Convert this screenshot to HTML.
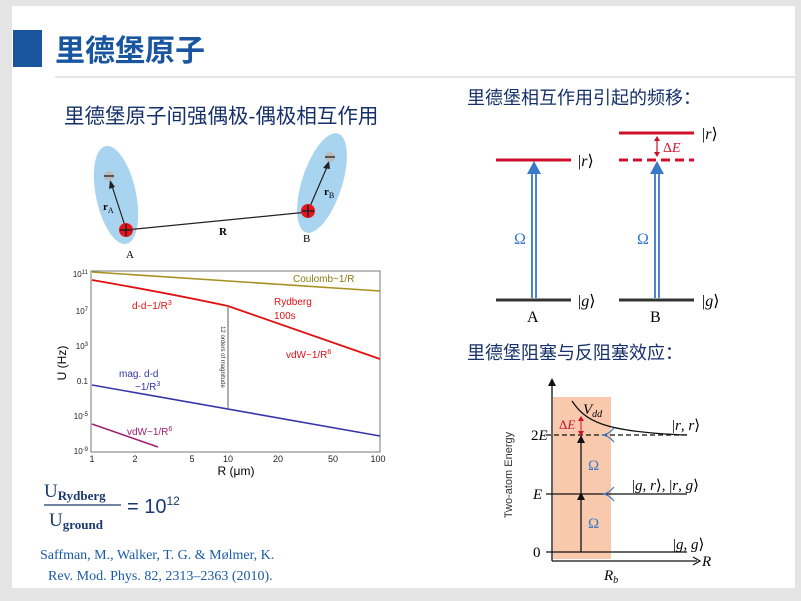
<!DOCTYPE html>
<html><head><meta charset="utf-8"><style>
html,body{margin:0;padding:0;background:#e6e6e6;}
svg{display:block}
.cn{font-family:"Liberation Sans","Noto Sans CJK SC",sans-serif}
.sf{font-family:"Liberation Serif",serif}
.ss{font-family:"Liberation Sans",sans-serif}
</style></head><body>
<svg width="801" height="601" viewBox="0 0 801 601" xmlns="http://www.w3.org/2000/svg">
<rect x="0" y="0" width="801" height="601" fill="#e4e4e4"/>
<rect x="12" y="6" width="783" height="582" fill="#fff"/>
<rect x="13" y="30" width="29" height="37" fill="#1a56a0"/>
<text x="55" y="61" class="cn" font-size="30" font-weight="bold" fill="#1a56a0">里德堡原子</text>
<line x1="55" y1="77" x2="795" y2="77" stroke="#ddd" stroke-width="1.5"/>
<text x="64" y="123" class="cn" font-size="20.5" fill="#15306a">里德堡原子间强偶极-偶极相互作用</text>

<!-- atoms -->
<ellipse cx="116" cy="195" rx="20" ry="50" transform="rotate(-12 116 195)" fill="#a9d4f0"/>
<ellipse cx="322" cy="183" rx="20" ry="52" transform="rotate(18 322 183)" fill="#a9d4f0"/>
<line x1="126" y1="230" x2="308" y2="212" stroke="#222" stroke-width="1.2"/>
<line x1="126" y1="229" x2="112" y2="186" stroke="#222" stroke-width="1.2"/>
<polygon points="110,180 109,189 115,187" fill="#222"/>
<line x1="308" y1="211" x2="327" y2="167" stroke="#222" stroke-width="1.2"/>
<polygon points="329,161 323,168 330,169" fill="#222"/>
<circle cx="109" cy="176" r="5" fill="#bbb"/><line x1="104" y1="176" x2="114" y2="176" stroke="#333" stroke-width="1.5"/>
<circle cx="330" cy="157" r="5" fill="#bbb"/><line x1="325" y1="157" x2="335" y2="157" stroke="#333" stroke-width="1.5"/>
<circle cx="126" cy="230" r="7" fill="#e8141b"/><path d="M120 230h12M126 224v12" stroke="#222" stroke-width="1.5"/>
<circle cx="308" cy="211" r="7" fill="#e8141b"/><path d="M302 211h12M308 205v12" stroke="#222" stroke-width="1.5"/>
<text x="103" y="210" class="sf" font-size="11" font-weight="bold">r<tspan font-size="8" font-weight="normal" dy="3">A</tspan></text>
<text x="324" y="195" class="sf" font-size="11" font-weight="bold">r<tspan font-size="8" font-weight="normal" dy="3">B</tspan></text>
<text x="219" y="235" class="sf" font-size="11" font-weight="bold">R</text>
<text x="126" y="258" class="sf" font-size="11">A</text>
<text x="303" y="242" class="sf" font-size="11">B</text>

<!-- plot -->
<rect x="91" y="271" width="289" height="181" fill="none" stroke="#777" stroke-width="1"/>
<g class="ss" font-size="8" fill="#222" text-anchor="end">
<text x="88" y="277">10<tspan font-size="6" dy="-3">11</tspan></text>
<text x="88" y="314">10<tspan font-size="6" dy="-3">7</tspan></text>
<text x="88" y="349">10<tspan font-size="6" dy="-3">3</tspan></text>
<text x="88" y="384">0.1</text>
<text x="88" y="419">10<tspan font-size="6" dy="-3">-5</tspan></text>
<text x="88" y="454">10<tspan font-size="6" dy="-3">-9</tspan></text>
</g>
<g class="ss" font-size="9" fill="#222" text-anchor="middle">
<text x="92" y="462">1</text><text x="135" y="462">2</text><text x="192" y="462">5</text><text x="228" y="462">10</text><text x="278" y="462">20</text><text x="333" y="462">50</text><text x="378" y="462">100</text>
</g>
<text x="236" y="475" class="ss" font-size="12" text-anchor="middle">R (μm)</text>
<text transform="translate(66 363) rotate(-90)" class="ss" font-size="12" text-anchor="middle">U (Hz)</text>
<polyline points="92,272 380,291" fill="none" stroke="#a89020" stroke-width="1.6"/>
<path d="M92,280 C150,290 200,300 228,306 L380,359" fill="none" stroke="#e01010" stroke-width="1.8"/>
<line x1="92" y1="385" x2="380" y2="436" stroke="#3535a8" stroke-width="1.6"/>
<line x1="92" y1="424" x2="158" y2="447" stroke="#a02070" stroke-width="1.6"/>
<line x1="228" y1="306" x2="228" y2="408" stroke="#777" stroke-width="1.2"/>
<text transform="translate(221 357) rotate(90)" class="ss" font-size="6" text-anchor="middle" fill="#333">12 orders of magnitude</text>
<text x="293" y="282" class="ss" font-size="10" fill="#8a7a10">Coulomb~1/R</text>
<text x="132" y="309" class="ss" font-size="10" fill="#e01010">d-d~1/R<tspan font-size="7" dy="-4">3</tspan></text>
<text x="274" y="305" class="ss" font-size="10" fill="#e01010">Rydberg</text>
<text x="274" y="319" class="ss" font-size="10" fill="#e01010">100s</text>
<text x="286" y="358" class="ss" font-size="10" fill="#e01010">vdW~1/R<tspan font-size="7" dy="-4">6</tspan></text>
<text x="119" y="377" class="ss" font-size="10" fill="#3535a8">mag. d-d</text>
<text x="135" y="390" class="ss" font-size="10" fill="#3535a8">~1/R<tspan font-size="7" dy="-4">3</tspan></text>
<text x="127" y="435" class="ss" font-size="10" fill="#a02070">vdW~1/R<tspan font-size="7" dy="-4">6</tspan></text>

<!-- formula -->
<text x="44" y="497" class="sf" font-size="19" fill="#1a3a6e">U<tspan font-size="13" font-weight="bold" dy="3">Rydberg</tspan></text>
<line x1="44" y1="505" x2="121" y2="505" stroke="#1a3a6e" stroke-width="1.2"/>
<text x="49" y="526" class="sf" font-size="19" fill="#1a3a6e">U<tspan font-size="13" font-weight="bold" dy="3">ground</tspan></text>
<text x="127" y="513" class="ss" font-size="20" fill="#1a3a6e">= 10<tspan font-size="12" dy="-8">12</tspan></text>
<text x="40" y="559" class="sf" font-size="14" fill="#1a5aa8">Saffman, M., Walker, T. G. &amp; Mølmer, K.</text>
<text x="48" y="580" class="sf" font-size="14" fill="#1a5aa8">Rev. Mod. Phys. 82, 2313–2363 (2010).</text>

<!-- right top -->
<text x="467" y="104" class="cn" font-size="18" fill="#15306a">里德堡相互作用引起的频移：</text>
<line x1="496" y1="160" x2="571" y2="160" stroke="#d0102a" stroke-width="3"/>
<line x1="496" y1="300" x2="571" y2="300" stroke="#333" stroke-width="3"/>
<line x1="619" y1="133" x2="694" y2="133" stroke="#d0102a" stroke-width="3"/>
<line x1="619" y1="160" x2="694" y2="160" stroke="#d0102a" stroke-width="3" stroke-dasharray="9,5"/>
<line x1="619" y1="300" x2="694" y2="300" stroke="#333" stroke-width="3"/>
<path d="M532 298V172M536 298V172" stroke="#3a78c8" stroke-width="1.8"/>
<polygon points="527,174 541,174 534,161" fill="#3a78c8"/>
<path d="M655 298V172M659 298V172" stroke="#3a78c8" stroke-width="1.8"/>
<polygon points="650,174 664,174 657,161" fill="#3a78c8"/>
<line x1="657" y1="137" x2="657" y2="156" stroke="#d0102a" stroke-width="1.2"/>
<polygon points="654,141 660,141 657,136" fill="#d0102a"/><polygon points="654,152 660,152 657,157" fill="#d0102a"/>
<text x="663" y="152" class="sf" font-size="14" fill="#d0102a">Δ<tspan font-style="italic">E</tspan></text>
<text x="514" y="244" class="sf" font-size="16" fill="#3a78c8">Ω</text>
<text x="637" y="244" class="sf" font-size="16" fill="#3a78c8">Ω</text>
<text x="578" y="166" class="sf" font-size="16">|<tspan font-style="italic">r</tspan>⟩</text>
<text x="702" y="139" class="sf" font-size="16">|<tspan font-style="italic">r</tspan>⟩</text>
<text x="578" y="306" class="sf" font-size="16">|<tspan font-style="italic">g</tspan>⟩</text>
<text x="702" y="306" class="sf" font-size="16">|<tspan font-style="italic">g</tspan>⟩</text>
<text x="527" y="322" class="sf" font-size="16">A</text>
<text x="650" y="322" class="sf" font-size="16">B</text>

<!-- blockade -->
<text x="467" y="359" class="cn" font-size="18" fill="#15306a">里德堡阻塞与反阻塞效应：</text>
<rect x="553" y="397" width="58" height="162" fill="#f8c9ad"/>
<line x1="552" y1="561" x2="552" y2="382" stroke="#111" stroke-width="1.3"/>
<polygon points="548,386 556,386 552,378" fill="#111"/>
<line x1="552" y1="561" x2="697" y2="561" stroke="#111" stroke-width="1.3"/>
<polyline points="693,557 700,561 693,565" fill="none" stroke="#111" stroke-width="1.2"/>
<text x="702" y="566" class="sf" font-size="15" font-style="italic">R</text>
<text x="604" y="580" class="sf" font-size="15" font-style="italic">R<tspan font-size="10" dy="3">b</tspan></text>
<line x1="546" y1="552" x2="687" y2="552" stroke="#111" stroke-width="1.3"/>
<line x1="546" y1="494" x2="687" y2="494" stroke="#111" stroke-width="1.3"/>
<line x1="546" y1="435" x2="687" y2="435" stroke="#111" stroke-width="1.3" stroke-dasharray="5,3"/>
<path d="M572 401 C585 420 600 432 687 435" fill="none" stroke="#111" stroke-width="1.3"/>
<line x1="581" y1="552" x2="581" y2="500" stroke="#111" stroke-width="1.3"/>
<polygon points="577,500 585,500 581,492" fill="#111"/>
<line x1="581" y1="494" x2="581" y2="442" stroke="#111" stroke-width="1.3"/>
<polygon points="577,443 585,443 581,435" fill="#111"/>
<line x1="581" y1="418" x2="581" y2="433" stroke="#d0102a" stroke-width="1"/>
<polygon points="578,421 584,421 581,416" fill="#d0102a"/><polygon points="578,431 584,431 581,436" fill="#d0102a"/>
<text x="559" y="429" class="sf" font-size="13" fill="#d0102a">Δ<tspan font-style="italic">E</tspan></text>
<text x="583" y="414" class="sf" font-size="15" font-style="italic">V<tspan font-size="10" dy="3">dd</tspan></text>
<text x="588" y="470" class="sf" font-size="15" fill="#3a78c8">Ω</text>
<text x="588" y="528" class="sf" font-size="15" fill="#3a78c8">Ω</text>
<path d="M614 428 Q608 435 602 435 Q608 435 614 442" fill="none" stroke="#3a78c8" stroke-width="1.2"/>
<path d="M614 487 Q608 494 603 494 Q608 494 614 501" fill="none" stroke="#3a78c8" stroke-width="1.2"/>
<text x="672" y="430" class="sf" font-size="15">|<tspan font-style="italic">r</tspan>, <tspan font-style="italic">r</tspan>⟩</text>
<text x="632" y="490" class="sf" font-size="15">|<tspan font-style="italic">g</tspan>, <tspan font-style="italic">r</tspan>⟩, |<tspan font-style="italic">r</tspan>, <tspan font-style="italic">g</tspan>⟩</text>
<text x="673" y="549" class="sf" font-size="15">|<tspan font-style="italic">g</tspan>, <tspan font-style="italic">g</tspan>⟩</text>
<text x="531" y="440" class="sf" font-size="15">2<tspan font-style="italic">E</tspan></text>
<text x="533" y="499" class="sf" font-size="15" font-style="italic">E</text>
<text x="533" y="557" class="sf" font-size="15">0</text>
<text transform="translate(512 475) rotate(-90)" class="ss" font-size="11" text-anchor="middle" fill="#333">Two-atom Energy</text>
</svg>
</body></html>
